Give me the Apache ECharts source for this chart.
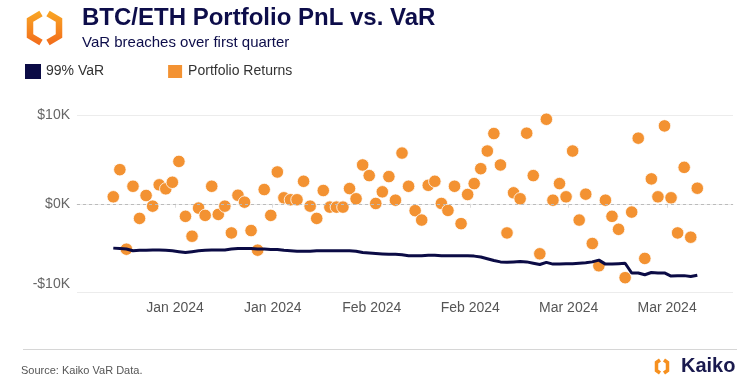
<!DOCTYPE html>
<html>
<head>
<meta charset="utf-8">
<script src="https://cdn.jsdelivr.net/npm/echarts@6/dist/echarts.min.js"></script>
<style>html,body{margin:0;padding:0;background:#fff}#c{width:743px;height:387px}</style>
</head>
<body>
<div id="c"></div>
<script>
// Daily portfolio returns (USD), first quarter, one value per day
const portfolioReturns = [780, 3840, -5120, 1970, -1650, 930, -270, 2130, 1680, 2420,
  4770, -1420, -3660, -490, -1310, 1970, -1200, -270, -3290, 960,
  180, -3020, -5230, 1600, -1310, 3580, 670, 450, 450, 2530,
  -270, -1650, 1490, -380, -380, -380, 1710, 560, 4370, 3170,
  30, 1340, 3060, 400, 5710, 1970, -780, -1840, 2080, 2530,
  30, -750, 1970, -2240, 1040, 2270, 3950, 5940, 7910, 4370,
  -3290, 1230, 560, 7950, 3170, -5640, 9520, 400, 2270, 780,
  5940, -1840, 1080, -4480, -6990, 400, -1420, -2880, -8330, -940,
  7390, -6160, 2800, 780, 8770, 670, -3290, 4100, -3770, 1750];

// Daily 99% VaR (USD)
const var99 = [-5000, -5050, -5100, -5300, -5250, -5250, -5200, -5200, -5250, -5300,
  -5400, -5500, -5400, -5300, -5250, -5200, -5200, -5200, -5100, -5050,
  -5050, -5050, -5100, -5100, -5150, -5150, -5250, -5300, -5350, -5350,
  -5350, -5300, -5300, -5300, -5300, -5300, -5300, -5350, -5500, -5550,
  -5600, -5650, -5700, -5700, -5750, -5850, -5850, -5850, -5800, -5800,
  -5850, -5850, -5850, -5850, -5850, -5900, -6000, -6200, -6400, -6550,
  -6600, -6550, -6500, -6550, -6700, -6850, -6600, -6800, -6800, -6750,
  -6750, -6700, -6650, -6550, -6350, -6800, -6800, -6750, -6700, -7800,
  -7800, -8000, -7750, -7800, -7800, -8150, -8100, -8100, -8200, -8050];

// X tick positions (day index within the quarter) and their labels
const xTickDays = [9.4, 24.3, 39.4, 54.4, 69.4, 84.4];
const xTickLabels = ['Jan 2024', 'Jan 2024', 'Feb 2024', 'Feb 2024', 'Mar 2024', 'Mar 2024'];

// Y ticks
const yTickValues = [-10000, 0, 10000];
const yTickLabels = ['-$10K', '$0K', '$10K'];

const seriesNames = ['99% VaR', 'Portfolio Returns'];

const NAVY = '#0b0b45';
const ORANGE = '#F39232';
const FONT = 'Liberation Sans, Arial, Helvetica, sans-serif';

const chart = echarts.init(document.getElementById('c'), null, {renderer: 'canvas'});

const returnsData = portfolioReturns.map((v, i) => [i, v]);
const varData = var99.map((v, i) => [i, v]);

const orangeGrad = new echarts.graphic.LinearGradient(0, 0, 0, 1, [
  {offset: 0, color: '#F9A825'}, {offset: 1, color: '#F26A1B'}]);
const orangeGrad2 = new echarts.graphic.LinearGradient(0, 0, 0, 1, [
  {offset: 0, color: '#F9A825'}, {offset: 1, color: '#F26A1B'}]);

chart.setOption({
  animation: false,
  backgroundColor: '#fff',
  textStyle: {fontFamily: FONT},
  grid: {left: 77, right: 10, top: 115, bottom: 94.5, containLabel: false},
  legend: {
    left: 20, top: 58, itemWidth: 16, itemHeight: 15, itemGap: 62,
    textStyle: {fontSize: 14, color: '#333', fontFamily: FONT},
    data: [{name: seriesNames[0], icon: 'rect'}, {name: seriesNames[1], icon: 'rect'}]
  },
  xAxis: {
    type: 'value', min: -5.53, max: 94.44,
    splitLine: {show: false},
    axisLine: {show: true, lineStyle: {color: '#ececec', width: 1}},
    axisTick: {show: true, length: 4, customValues: xTickDays, lineStyle: {color: '#dddddd'}},
    axisLabel: {
      customValues: xTickDays, margin: 9, fontSize: 14, color: '#555', fontFamily: FONT,
      formatter: function (v) {
        let best = 0;
        for (let k = 0; k < xTickDays.length; k++) {
          if (Math.abs(xTickDays[k] - v) < Math.abs(xTickDays[best] - v)) best = k;
        }
        return xTickLabels[best];
      }
    }
  },
  yAxis: {
    type: 'value', min: -10000, max: 10000, interval: 10000,
    axisLine: {show: false}, axisTick: {show: false},
    splitLine: {show: true, lineStyle: {color: '#ececec', width: 1}},
    axisLabel: {
      margin: 7, fontSize: 14, color: '#666', fontFamily: FONT,
      formatter: function (v) {
        const k = yTickValues.indexOf(v);
        const t = k >= 0 ? yTickLabels[k] : '';
        return v < 0 ? '{low|' + t + '}' : t;
      },
      rich: {low: {fontSize: 14, color: '#666', fontFamily: FONT, padding: [0, 0, 16, 0]}}
    }
  },
  series: [
    {
      name: seriesNames[1], type: 'scatter', data: returnsData, z: 2,
      symbolSize: 12.5,
      itemStyle: {color: ORANGE, borderColor: '#fff', borderWidth: 0.8, opacity: 1},
      markLine: {
        silent: true, symbol: ['none', 'none'], label: {show: false},
        lineStyle: {color: '#bbbbbb', type: [3, 3], width: 1},
        data: [{yAxis: 0}]
      }
    },
    {
      name: seriesNames[0], type: 'line', data: varData, z: 3,
      showSymbol: false, symbol: 'none',
      lineStyle: {color: NAVY, width: 3},
      itemStyle: {color: NAVY}
    }
  ],
  graphic: [
    // top-left Kaiko mark
    {type: 'polyline', shape: {points: [[41, 13.5], [30, 20], [30, 36], [41, 42.5]]},
      style: {stroke: orangeGrad, lineWidth: 6.5, fill: null, lineJoin: 'miter'}},
    {type: 'polyline', shape: {points: [[48, 13.5], [59, 20], [59, 36], [48, 42.5]]},
      style: {stroke: orangeGrad2, lineWidth: 6.5, fill: null, lineJoin: 'miter'}},
    {type: 'text', left: 82, top: 6,
      style: {text: 'BTC/ETH Portfolio PnL vs. VaR', font: 'bold 24px ' + FONT, fill: '#0d0d4a'}},
    {type: 'text', left: 82, top: 35,
      style: {text: 'VaR breaches over first quarter', font: '15px ' + FONT, fill: '#0d0d4a'}},
    // footer separator
    {type: 'line', shape: {x1: 23, y1: 349.5, x2: 737, y2: 349.5},
      style: {stroke: '#d6d6d6', lineWidth: 1}},
    {type: 'text', left: 21, top: 365,
      style: {text: 'Source: Kaiko VaR Data.', font: '11px ' + FONT, fill: '#555'}},
    // bottom-right logo
    {type: 'polyline', shape: {points: [[660, 360], [656.5, 362.5], [656.5, 370.5], [660, 373]]},
      style: {stroke: '#F6901F', lineWidth: 3.5, fill: null}},
    {type: 'polyline', shape: {points: [[664, 360], [667.5, 362.5], [667.5, 370.5], [664, 373]]},
      style: {stroke: '#F6901F', lineWidth: 3.5, fill: null}},
    {type: 'text', left: 681, top: 356,
      style: {text: 'Kaiko', font: 'bold 20px ' + FONT, fill: '#1a1a4e'}}
  ]
});
</script>
</body>
</html>
